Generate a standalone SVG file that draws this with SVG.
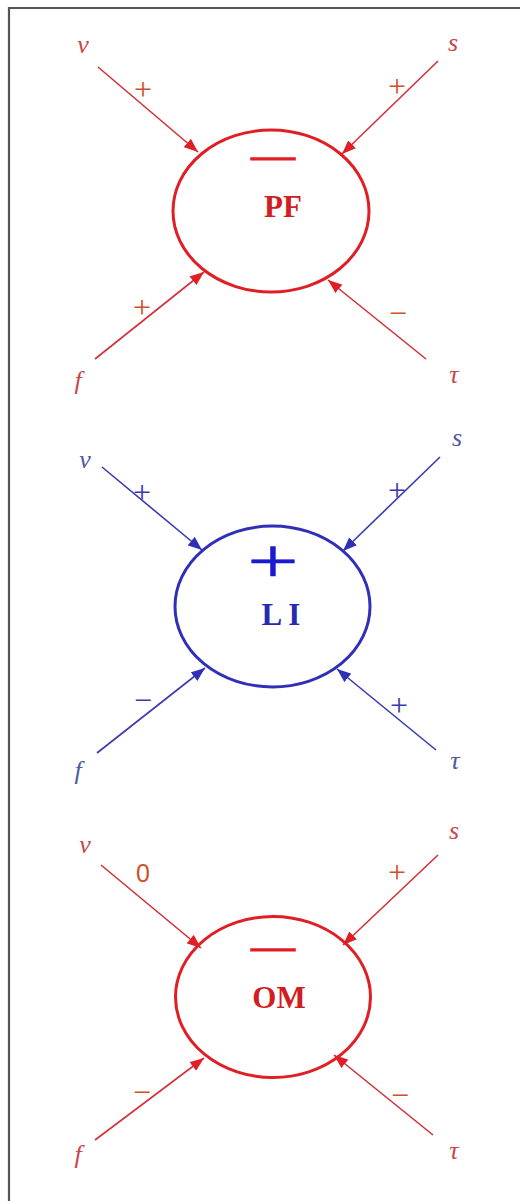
<svg xmlns="http://www.w3.org/2000/svg" width="520" height="1201" viewBox="0 0 520 1201">
<style>
.red .ell{fill:none;stroke:#e01e24;stroke-width:3}
.blue .ell{fill:none;stroke:#2f2fb8;stroke-width:3}
.rl{stroke:#d4303a;stroke-width:1.6;fill:none;marker-end:url(#ar)}
.bl{stroke:#3a3ab0;stroke-width:1.6;fill:none;marker-end:url(#ab)}
.var{font-family:"Liberation Serif",serif;font-style:italic;font-size:26px;text-anchor:middle}
.sg{font-family:"Liberation Serif",serif;font-size:32px;text-anchor:middle}
.big{font-family:"Liberation Serif",serif;font-size:40px;text-anchor:middle}
.lab{font-family:"Liberation Serif",serif;font-weight:bold;font-size:31px;text-anchor:middle}
.rv{fill:#c8464a}
.rs{fill:#d0502a}
.bv{fill:#4a5aa0}
.bs{fill:#3a3ab0}
</style>
<defs>
<marker id="ar" viewBox="0 0 14 11" refX="14" refY="5.5" markerWidth="14" markerHeight="11" markerUnits="userSpaceOnUse" orient="auto"><path d="M0,0 L14,5.5 L0,11 z" fill="#e01e24"/></marker>
<marker id="ab" viewBox="0 0 14 11" refX="14" refY="5.5" markerWidth="14" markerHeight="11" markerUnits="userSpaceOnUse" orient="auto"><path d="M0,0 L14,5.5 L0,11 z" fill="#2f2fb8"/></marker>
</defs>
<rect width="520" height="1201" fill="#ffffff"/>
<path d="M9,1201 V8 H520" fill="none" stroke="#555555" stroke-width="2.2"/>

<g id="connectors">
<line class="rl" x1="98" y1="67" x2="198" y2="152"/>
<line class="rl" x1="438" y1="61" x2="342" y2="154"/>
<line class="rl" x1="95" y1="359" x2="204" y2="272"/>
<line class="rl" x1="426" y1="359" x2="328" y2="280"/>

<line class="bl" x1="102" y1="467" x2="202" y2="550"/>
<line class="bl" x1="440" y1="457" x2="343" y2="551"/>
<line class="bl" x1="97" y1="753" x2="205" y2="668"/>
<line class="bl" x1="436" y1="750" x2="337" y2="669"/>

<line class="rl" x1="101" y1="865" x2="201" y2="948"/>
<line class="rl" x1="438" y1="855" x2="343" y2="945"/>
<line class="rl" x1="95" y1="1140" x2="204" y2="1058"/>
<line class="rl" x1="433" y1="1135" x2="334" y2="1055"/>
</g>

<g id="pf" class="red">
<ellipse class="ell" cx="271" cy="211" rx="98" ry="81"/>
<text class="big" transform="translate(273,172.2) scale(2.28,1)" fill="#e01e24" stroke="#e01e24" stroke-width="1.4">−</text>
<text class="lab" x="283" y="217" fill="#d01e24">PF</text>
<text class="var rv" x="83" y="53">v</text>
<text class="var rv" x="453" y="51">s</text>
<text class="var rv" x="78" y="389">f</text>
<text class="var rv" x="454" y="383">τ</text>
<text class="sg rs" x="143" y="99.5">+</text>
<text class="sg rs" x="397" y="96.5">+</text>
<text class="sg rs" x="142" y="317.5">+</text>
<text class="sg rs" x="398" y="323.5">−</text>
</g>

<g id="li" class="blue">
<ellipse class="ell" cx="272.5" cy="606.5" rx="97.5" ry="80.5"/>
<text class="big" transform="translate(273,583) scale(2.28,1.6)" fill="#1a1ad0" stroke="#1a1ad0" stroke-width="0.3">+</text>
<text class="lab" x="281" y="625" fill="#2a2ab0">L I</text>
<text class="var bv" x="85" y="468">v</text>
<text class="var bv" x="457" y="446">s</text>
<text class="var bv" x="78" y="779">f</text>
<text class="var bv" x="455" y="769">τ</text>
<text class="sg bs" x="142" y="502.5">+</text>
<text class="sg bs" x="397" y="500.5">+</text>
<text class="sg bs" x="143" y="710.5">−</text>
<text class="sg bs" x="399" y="715.5">+</text>
</g>

<g id="om" class="red">
<ellipse class="ell" cx="273" cy="997" rx="97.5" ry="80.5"/>
<text class="big" transform="translate(273,963.2) scale(2.28,1)" fill="#e01e24" stroke="#e01e24" stroke-width="1.4">−</text>
<text class="lab" x="279" y="1008" fill="#d01e24">OM</text>
<text class="var rv" x="85" y="853">v</text>
<text class="var rv" x="454" y="839">s</text>
<text class="var rv" x="78" y="1163">f</text>
<text class="var rv" x="454" y="1159">τ</text>
<text x="143" y="882" font-family="Liberation Sans, sans-serif" font-size="25" text-anchor="middle" fill="#d0502a">0</text>
<text class="sg rs" x="397" y="882.5">+</text>
<text class="sg rs" x="142" y="1102.5">−</text>
<text class="sg rs" x="400" y="1105.5">−</text>
</g>
</svg>
